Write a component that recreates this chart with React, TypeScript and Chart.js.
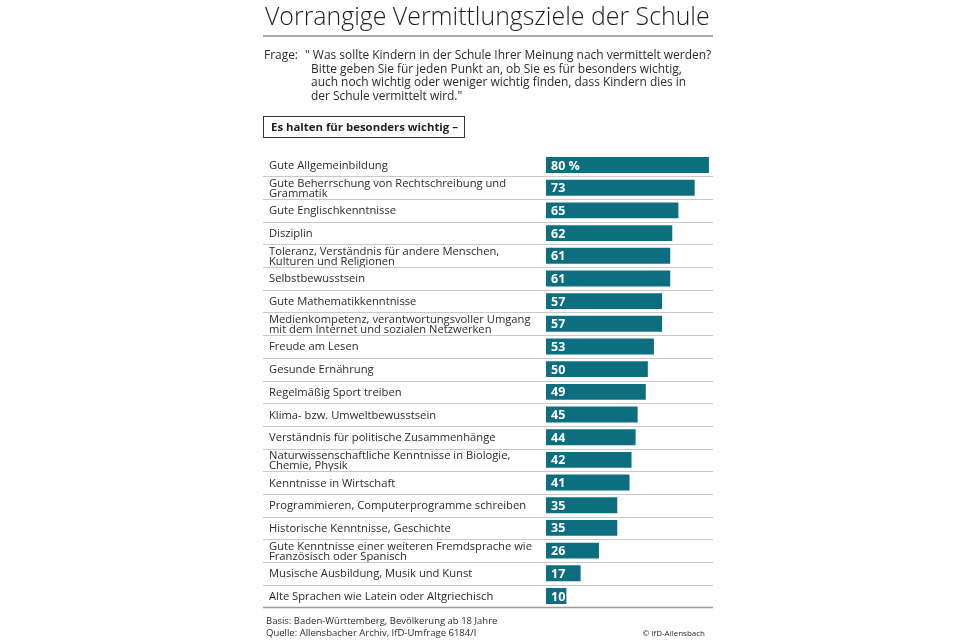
import React, { useEffect, useRef } from "react";
import { Chart, registerables } from "chart.js";

Chart.register(...registerables);

const titleText = "Vorrangige Vermittlungsziele der Schule";
const questionLines = [
  "\" Was sollte Kindern in der Schule Ihrer Meinung nach vermittelt werden?",
  "Bitte geben Sie für jeden Punkt an, ob Sie es für besonders wichtig,",
  "auch noch wichtig oder weniger wichtig finden, dass Kindern dies in",
  "der Schule vermittelt wird.\"",
];
const boxText = "Es halten für besonders wichtig –";

const categories = [
  "Gute Allgemeinbildung",
  "Gute Beherrschung von Rechtschreibung und\nGrammatik",
  "Gute Englischkenntnisse",
  "Disziplin",
  "Toleranz, Verständnis für andere Menschen,\nKulturen und Religionen",
  "Selbstbewusstsein",
  "Gute Mathematikkenntnisse",
  "Medienkompetenz, verantwortungsvoller Umgang\nmit dem Internet und sozialen Netzwerken",
  "Freude am Lesen",
  "Gesunde Ernährung",
  "Regelmäßig Sport treiben",
  "Klima- bzw. Umweltbewusstsein",
  "Verständnis für politische Zusammenhänge",
  "Naturwissenschaftliche Kenntnisse in Biologie,\nChemie, Physik",
  "Kenntnisse in Wirtschaft",
  "Programmieren, Computerprogramme schreiben",
  "Historische Kenntnisse, Geschichte",
  "Gute Kenntnisse einer weiteren Fremdsprache wie\nFranzösisch oder Spanisch",
  "Musische Ausbildung, Musik und Kunst",
  "Alte Sprachen wie Latein oder Altgriechisch",
];

const values = [80, 73, 65, 62, 61, 61, 57, 57, 53, 50, 49, 45, 44, 42, 41, 35, 35, 26, 17, 10];

const footerLines = [
  "Basis: Baden-Württemberg, Bevölkerung ab 18 Jahre",
  "Quelle: Allensbacher Archiv, IfD-Umfrage 6184/I",
];
const copyright = "© IfD-Allensbach";

const FONT = "'Open Sans', 'DejaVu Sans', sans-serif";
const BAR_COLOR = "#0d6e80";

const rowPlugin = {
  id: "rows",
  beforeDatasetsDraw(chart: any) {
    const { ctx, chartArea, scales } = chart;
    const y = scales.y;
    const left = y.left - 6;
    const right = chartArea.right;
    ctx.save();
    ctx.strokeStyle = "#c8c8c8";
    ctx.lineWidth = 1;
    for (let i = 0; i < categories.length - 1; i++) {
      const yy = Math.round((y.getPixelForValue(i) + y.getPixelForValue(i + 1)) / 2) + 0.5;
      ctx.beginPath();
      ctx.moveTo(left, yy);
      ctx.lineTo(right, yy);
      ctx.stroke();
    }
    ctx.strokeStyle = "#9a9a9a";
    ctx.lineWidth = 1.5;
    const by = Math.round(chartArea.bottom) + 0.5;
    ctx.beginPath();
    ctx.moveTo(left, by);
    ctx.lineTo(right, by);
    ctx.stroke();
    ctx.restore();
  },
  afterDatasetsDraw(chart: any) {
    const { ctx } = chart;
    const meta = chart.getDatasetMeta(0);
    ctx.save();
    ctx.fillStyle = "#ffffff";
    ctx.font = `bold 12.5px ${FONT}`;
    ctx.textBaseline = "middle";
    ctx.textAlign = "left";
    meta.data.forEach((bar: any, i: number) => {
      const txt = i === 0 ? `${values[i]} %` : `${values[i]}`;
      ctx.fillText(txt, bar.base + 5, bar.y + 1);
    });
    ctx.restore();
  },
};

function BarChart() {
  const ref = useRef<HTMLCanvasElement | null>(null);
  useEffect(() => {
    if (!ref.current) return;
    const chart = new Chart(ref.current, {
      type: "bar",
      data: {
        labels: categories.map((c) => c.split("\n")),
        datasets: [
          {
            data: values,
            backgroundColor: BAR_COLOR,
            borderWidth: 0,
            barPercentage: 0.7,
            categoryPercentage: 1,
          },
        ],
      },
      options: {
        indexAxis: "y",
        responsive: false,
        animation: false,
        devicePixelRatio: 1,
        layout: { padding: { left: 269, top: 153.7, right: 247, bottom: 32.7 } },
        plugins: {
          legend: { display: false },
          tooltip: { enabled: false },
        },
        scales: {
          x: { display: false, min: 0, max: 82 },
          y: {
            grid: { display: false },
            border: { display: false },
            ticks: {
              autoSkip: false,
              crossAlign: "far",
              padding: 0,
              labelOffset: 0.8,
              color: "#2b2b2b",
              font: { family: FONT, size: 11.2, lineHeight: 0.9 },
            },
            afterFit: (scale: any) => {
              scale.width = 277;
            },
          },
        },
      },
      plugins: [rowPlugin],
    } as any);
    return () => chart.destroy();
  }, []);
  return (
    <canvas
      ref={ref}
      width={960}
      height={640}
      style={{ position: "absolute", left: 0, top: 0, width: 960, height: 640 }}
    />
  );
}

export default function App() {
  return (
    <div
      style={{
        position: "fixed",
        left: 0,
        top: 0,
        width: 960,
        height: 640,
        background: "#ffffff",
        fontFamily: FONT,
        color: "#2b2b2b",
        overflow: "hidden",
      }}
    >
      <BarChart />
      <div
        style={{
          position: "absolute",
          left: 265,
          top: -2,
          fontSize: 24.9,
          fontWeight: 300,
          color: "#1e1e1e",
          whiteSpace: "nowrap",
          lineHeight: "34px",
        }}
      >
        {titleText}
      </div>
      <div style={{ position: "absolute", left: 263, top: 35, width: 450, height: 1.5, background: "#aaaaaa" }} />
      <div style={{ position: "absolute", left: 264, top: 48, fontSize: 11.95, lineHeight: "13.6px", whiteSpace: "nowrap" }}>
        Frage:
      </div>
      <div style={{ position: "absolute", left: 305, top: 48, fontSize: 11.95, lineHeight: "13.6px", whiteSpace: "nowrap" }}>
        {questionLines.map((l, i) => (
          <div key={i} style={{ paddingLeft: i === 0 ? 0 : 6 }}>
            {l}
          </div>
        ))}
      </div>
      <div
        style={{
          position: "absolute",
          left: 263,
          top: 116,
          width: 193,
          height: 20,
          border: "1px solid #333",
          fontSize: 11.4,
          fontWeight: 700,
          lineHeight: "20px",
          paddingLeft: 7,
          boxSizing: "content-box",
          whiteSpace: "nowrap",
          color: "#1e1e1e",
        }}
      >
        {boxText}
      </div>
      <div style={{ position: "absolute", left: 266, top: 615, fontSize: 9.5, lineHeight: "11.5px", whiteSpace: "nowrap" }}>
        {footerLines.map((l, i) => (
          <div key={i}>{l}</div>
        ))}
      </div>
      <div style={{ position: "absolute", right: 255, top: 627, fontSize: 8, lineHeight: "11px", whiteSpace: "nowrap" }}>
        {copyright}
      </div>
    </div>
  );
}
